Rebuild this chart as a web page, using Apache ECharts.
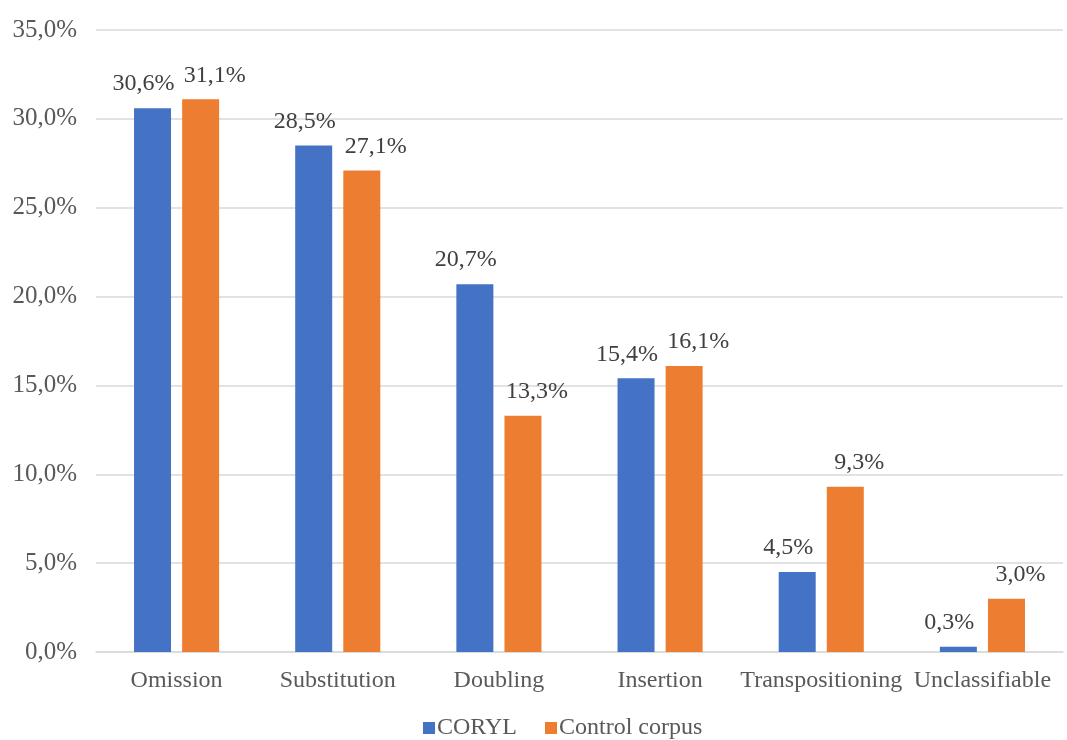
<!DOCTYPE html>
<html>
<head>
<meta charset="utf-8">
<script src="https://cdn.jsdelivr.net/npm/echarts@6/dist/echarts.min.js"></script>
<style>
  html, body { margin: 0; padding: 0; background: #fff; }
  #main { width: 1067px; height: 740px; }
</style>
</head>
<body>
<div id="main"></div>
<script>
const categories = ["Omission", "Substitution", "Doubling", "Insertion", "Transpositioning", "Unclassifiable"];
const coryl = [30.6, 28.5, 20.7, 15.4, 4.5, 0.3];
const control = [31.1, 27.1, 13.3, 16.1, 9.3, 3.0];
const seriesNames = ["CORYL", "Control corpus"];

const font = "'Liberation Serif', 'Times New Roman', serif";
const pct = v => v.toFixed(1).replace(".", ",") + "%";

const chart = echarts.init(document.getElementById("main"));

chart.setOption({
  animation: false,
  textStyle: { fontFamily: font },
  legend: {
    bottom: -5,
    left: 418,
    itemWidth: 12,
    itemHeight: 12,
    itemGap: 28,
    icon: "rect",
    textStyle: { fontFamily: font, fontSize: 24, color: "#595959", padding: [0, 0, 0, -3] },
    data: seriesNames
  },
  grid: { left: 96, right: 4, top: 30, bottom: 88 },
  xAxis: {
    type: "category",
    data: categories,
    axisLine: { lineStyle: { color: "#d9d9d9", width: 1.5 } },
    axisTick: { show: false },
    axisLabel: { interval: 0, margin: 17, fontSize: 24, color: "#595959", fontFamily: font }
  },
  yAxis: {
    type: "value",
    min: 0,
    max: 35,
    interval: 5,
    axisLine: { show: false },
    axisTick: { show: false },
    splitLine: { lineStyle: { color: "#d9d9d9", width: 1.5 } },
    axisLabel: { margin: 19, fontSize: 25, color: "#595959", fontFamily: font, formatter: pct }
  },
  series: [
    {
      name: seriesNames[0],
      type: "bar",
      data: coryl,
      barWidth: 37,
      barGap: "30%",
      itemStyle: { color: "#4472C4" },
      label: {
        show: true, position: "top", distance: 12, offset: [-9, 0],
        fontSize: 24, color: "#404040", fontFamily: font,
        formatter: p => pct(p.value)
      }
    },
    {
      name: seriesNames[1],
      type: "bar",
      data: control,
      barWidth: 37,
      itemStyle: { color: "#ED7D31" },
      label: {
        show: true, position: "top", distance: 12, offset: [14, 0],
        fontSize: 24, color: "#404040", fontFamily: font,
        formatter: p => pct(p.value)
      }
    }
  ]
});
</script>
</body>
</html>
